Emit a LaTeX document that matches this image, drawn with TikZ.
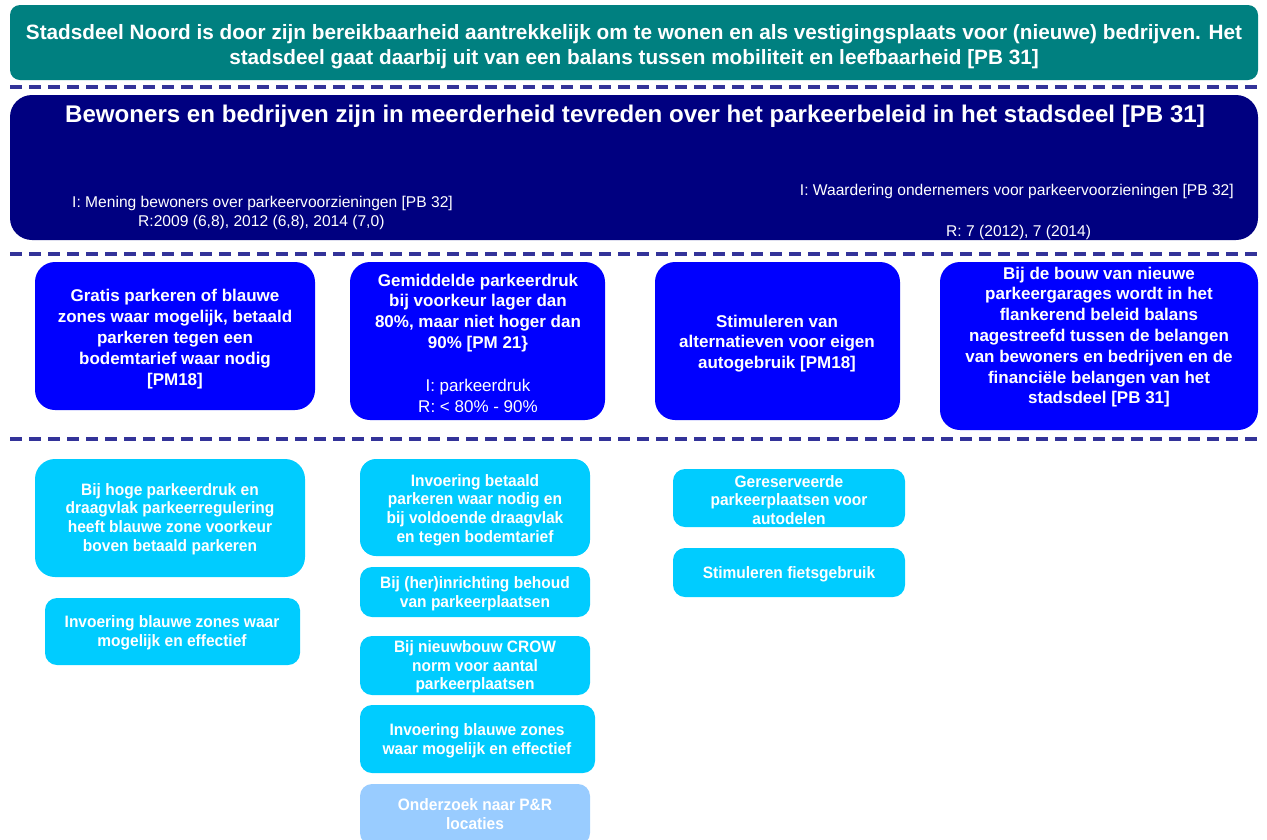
\documentclass[tikz,border=0pt]{standalone}
\usepackage{fontspec}
\setmainfont{Liberation Sans}
\newfontfamily\narrowfont[FakeStretch=0.94]{Liberation Sans}
\begin{document}
\begin{tikzpicture}[x=1pt,y=-1pt,
  sep/.style={draw=sepblue,line width=4pt,dash pattern=on 12pt off 7pt},
  goalbox/.style={fill=tealgreen,rounded corners=10pt,text=white,align=center,
    font=\fontsize{20.75}{25}\selectfont\bfseries},
  aimbox/.style={fill=navyblue,rounded corners=22pt},
  subbox/.style={fill=pureblue,rounded corners=20pt,text=white,align=center,
    font=\fontsize{17}{20.8}\selectfont\bfseries},
  actbox/.style={fill=skyblue,rounded corners=12pt,text=white,align=center,
    font=\narrowfont\fontsize{16.5}{18.7}\selectfont\bfseries},
  palebox/.style={actbox,fill=paleblue},
  wtext/.style={text=white,font=\fontsize{15.6}{19}\selectfont,inner sep=0pt}]
\definecolor{tealgreen}{HTML}{008080}
\definecolor{navyblue}{HTML}{000080}
\definecolor{pureblue}{HTML}{0000FF}
\definecolor{skyblue}{HTML}{00CCFF}
\definecolor{paleblue}{HTML}{99CCFF}
\definecolor{sepblue}{HTML}{333399}
\useasboundingbox (0,0) rectangle (1267,839);

% top level goal
\path[goalbox] (10,5) rectangle (1258,80);
\node[goalbox,fill=none] (goal) at (634,47)
  {Stadsdeel Noord is door zijn bereikbaarheid aantrekkelijk om te wonen en als vestigingsplaats voor (nieuwe) bedrijven. Het\\
   stadsdeel gaat daarbij uit van een balans tussen mobiliteit en leefbaarheid [PB 31]};

\coordinate (s1a) at (10,87); \coordinate (s1b) at (1262,87);
\draw[sep] (s1a) -- (s1b);

% second level aim with indicators
\path[aimbox] (10,95) rectangle (1258,240);
\node[text=white,font=\fontsize{24.1}{28}\selectfont\bfseries] (aim) at (635,116)
  {Bewoners en bedrijven zijn in meerderheid tevreden over het parkeerbeleid in het stadsdeel [PB 31]};
\node[wtext,anchor=base west] (ind1) at (72,207) {I: Mening bewoners over parkeervoorzieningen [PB 32]};
\node[wtext,anchor=base west] (res1) at (138,226) {R:2009 (6,8), 2012 (6,8), 2014 (7,0)};
\node[wtext,anchor=base east] (ind2) at (1234,195) {I: Waardering ondernemers voor parkeervoorzieningen [PB 32]};
\node[wtext,anchor=base west] (res2) at (946,236) {R: 7 (2012), 7 (2014)};

\coordinate (s2a) at (10,254); \coordinate (s2b) at (1262,254);
\draw[sep] (s2a) -- (s2b);

% third level sub goals
\path[subbox] (35,262) rectangle (315,410);
\node[subbox,fill=none] (g1) at (175,339)
  {Gratis parkeren of blauwe\\ zones waar mogelijk, betaald\\ parkeren tegen een\\ bodemtarief waar nodig\\{}[PM18]};
\path[subbox] (350,262) rectangle (605,420);
\node[subbox,fill=none] (g2) at (478,343)
  {Gemiddelde parkeerdruk\\ bij voorkeur lager dan\\ 80\%, maar niet hoger dan\\ 90\% [PM 21\}\\[22pt]
   \mdseries I: parkeerdruk\\ \mdseries R: < 80\% - 90\%};
\path[subbox] (655,262) rectangle (900,420);
\node[subbox,fill=none] (g3) at (777,343.5)
  {Stimuleren van\\ alternatieven voor eigen\\ autogebruik [PM18]};
\path[subbox] (940,262) rectangle (1258,430);
\node[subbox,fill=none] (g4) at (1099,337)
  {Bij de bouw van nieuwe\\ parkeergarages wordt in het\\ flankerend beleid balans\\ nagestreefd tussen de belangen\\ van bewoners en bedrijven en de\\ financiële belangen van het\\ stadsdeel [PB 31]};

\coordinate (s3a) at (10,439); \coordinate (s3b) at (1262,439);
\draw[sep] (s3a) -- (s3b);

% fourth level actions
\path[actbox,rounded corners=20pt] (35,459) rectangle (305,577);
\node[actbox,fill=none] (a1) at (170,519)
  {Bij hoge parkeerdruk en\\ draagvlak parkeerregulering\\ heeft blauwe zone voorkeur\\ boven betaald parkeren};
\path[actbox] (45,598) rectangle (300,665);
\node[actbox,fill=none] (a2) at (172,633)
  {Invoering blauwe zones waar\\ mogelijk en effectief};

\path[actbox,rounded corners=16pt] (360,459) rectangle (590,556);
\node[actbox,fill=none] (b1) at (475,510)
  {Invoering betaald\\ parkeren waar nodig en\\ bij voldoende draagvlak\\ en tegen bodemtarief};
\path[actbox] (360,567) rectangle (590,617);
\node[actbox,fill=none] (b2) at (475,594)
  {Bij (her)inrichting behoud\\ van parkeerplaatsen};
\path[actbox] (360,636) rectangle (590,695);
\node[actbox,fill=none] (b3) at (475,667)
  {Bij nieuwbouw CROW\\ norm voor aantal\\ parkeerplaatsen};
\path[actbox] (360,705) rectangle (595,773);
\node[actbox,fill=none] (b4) at (477,741)
  {Invoering blauwe zones\\ waar mogelijk en effectief};
\path[palebox] (360,784) rectangle (590,845);
\node[palebox,fill=none] (b5) at (475,814)
  {Onderzoek naar P\&R\\ locaties};

\path[actbox] (673,469) rectangle (905,527);
\node[actbox,fill=none] (c1) at (789,500)
  {Gereserveerde\\ parkeerplaatsen voor\\ autodelen};
\path[actbox] (673,548) rectangle (905,597);
\node[actbox,fill=none] (c2) at (789,574)
  {Stimuleren fietsgebruik};
\end{tikzpicture}
\end{document}
